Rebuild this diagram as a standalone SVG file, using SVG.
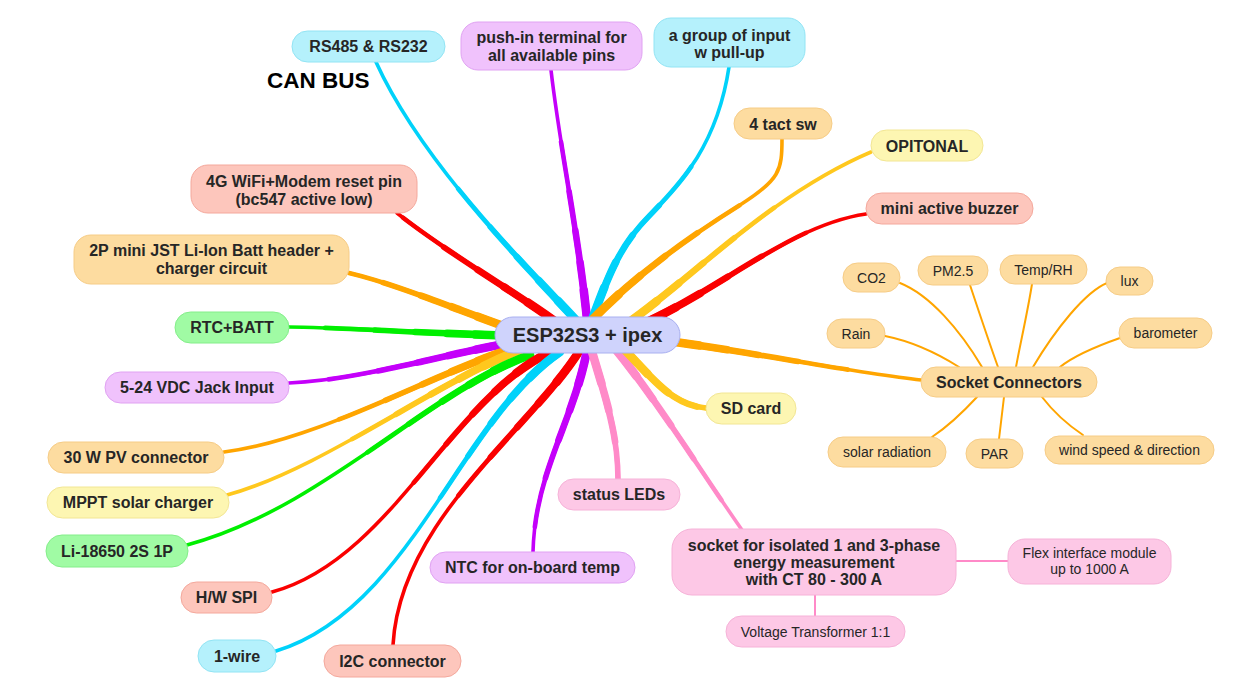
<svg xmlns="http://www.w3.org/2000/svg" xmlns:xlink="http://www.w3.org/1999/xlink" width="1241" height="696" viewBox="0 0 1241 696">
<style>
.e use{fill:none;stroke-linecap:round}
.t1{stroke-width:3.6}
.t2{stroke-width:4.6;stroke-dasharray:190 3000}
.t3{stroke-width:5.6;stroke-dasharray:140 3000}
.t4{stroke-width:6.6;stroke-dasharray:100 3000}
.t5{stroke-width:7.6;stroke-dasharray:68 3000}
.t6{stroke-width:8.6;stroke-dasharray:40 3000}
.thin{fill:none;stroke-width:2;stroke-linecap:round}
.n rect{stroke-width:1}
.n text{font-family:"Liberation Sans",Arial,sans-serif;font-weight:bold;font-size:16px;fill:#262626;text-anchor:middle}
.n text.r{font-weight:normal;font-size:14px}
.cy rect{fill:#b5f1fc;stroke:#92e4f4}
.pu rect{fill:#f0c2fc;stroke:#e0a2f2}
.or rect{fill:#fddca0;stroke:#f6cc86}
.ye rect{fill:#fdf6b2;stroke:#f2e694}
.sa rect{fill:#fdc6bc;stroke:#f4a89c}
.gr rect{fill:#a0fba4;stroke:#84ee8a}
.pk rect{fill:#fdc8e6;stroke:#f6b2d8}
.la rect{fill:#cfd3fc;stroke:#a9b0f0}
</style>
<defs>
<path id="p-rs485" d="M585,330 C545,285 425,170 376,62"/>
<path id="p-push" d="M588,330 C580,240 560,150 551,70"/>
<path id="p-group" d="M590,325 C605,285 615,255 640,226 S715,160 729,67"/>
<path id="p-tact" d="M590,322 C640,270 700,230 740,205 S782,170 782,139"/>
<path id="p-opit" d="M625,325 C690,280 770,195 871,152"/>
<path id="p-buzz" d="M640,325 C720,290 790,225 866,214"/>
<path id="p-4g" d="M560,325 C520,295 450,255 397,213"/>
<path id="p-2p" d="M515,330 C470,315 400,285 349,273"/>
<path id="p-rtc" d="M515,336 C420,333 330,327 289,327"/>
<path id="p-vdc" d="M515,342 C440,355 360,380 289,383"/>
<path id="p-pv" d="M515,348 C440,370 320,440 224,452"/>
<path id="p-mppt" d="M520,350 C440,380 320,470 227,495"/>
<path id="p-li" d="M530,355 C430,390 320,510 187,545"/>
<path id="p-spi" d="M550,352 C450,400 390,560 272,592"/>
<path id="p-wire" d="M560,352 C460,420 410,610 276,651"/>
<path id="p-i2c" d="M580,350 C530,430 400,520 393,645"/>
<path id="p-ntc" d="M588,345 C575,420 535,470 533,552"/>
<path id="p-led" d="M590,345 C603,390 618,430 618,480"/>
<path id="p-sock" d="M612,345 C650,390 700,470 742,530"/>
<path id="p-sd" d="M620,345 C650,375 670,405 706,408"/>
<path id="p-sc" d="M660,340 C740,350 850,372 921,380"/>
</defs>
<rect width="1241" height="696" fill="#ffffff"/>
<g id="connectors">
<g id="e-rs485" class="e" stroke="#00d2fa"><use xlink:href="#p-rs485" class="t1"/><use xlink:href="#p-rs485" class="t2"/><use xlink:href="#p-rs485" class="t3"/><use xlink:href="#p-rs485" class="t4"/><use xlink:href="#p-rs485" class="t5"/><use xlink:href="#p-rs485" class="t6"/></g>
<g id="e-push" class="e" stroke="#c400fa"><use xlink:href="#p-push" class="t1"/><use xlink:href="#p-push" class="t2"/><use xlink:href="#p-push" class="t3"/><use xlink:href="#p-push" class="t4"/><use xlink:href="#p-push" class="t5"/><use xlink:href="#p-push" class="t6"/></g>
<g id="e-group" class="e" stroke="#00d2fa"><use xlink:href="#p-group" class="t1"/><use xlink:href="#p-group" class="t2"/><use xlink:href="#p-group" class="t3"/><use xlink:href="#p-group" class="t4"/><use xlink:href="#p-group" class="t5"/><use xlink:href="#p-group" class="t6"/></g>
<g id="e-tact" class="e" stroke="#ffa500"><use xlink:href="#p-tact" class="t1"/><use xlink:href="#p-tact" class="t2"/><use xlink:href="#p-tact" class="t3"/><use xlink:href="#p-tact" class="t4"/><use xlink:href="#p-tact" class="t5"/><use xlink:href="#p-tact" class="t6"/></g>
<g id="e-opit" class="e" stroke="#ffc81e"><use xlink:href="#p-opit" class="t1"/><use xlink:href="#p-opit" class="t2"/><use xlink:href="#p-opit" class="t3"/><use xlink:href="#p-opit" class="t4"/><use xlink:href="#p-opit" class="t5"/><use xlink:href="#p-opit" class="t6"/></g>
<g id="e-buzz" class="e" stroke="#fa0000"><use xlink:href="#p-buzz" class="t1"/><use xlink:href="#p-buzz" class="t2"/><use xlink:href="#p-buzz" class="t3"/><use xlink:href="#p-buzz" class="t4"/><use xlink:href="#p-buzz" class="t5"/><use xlink:href="#p-buzz" class="t6"/></g>
<g id="e-4g" class="e" stroke="#fa0000"><use xlink:href="#p-4g" class="t1"/><use xlink:href="#p-4g" class="t2"/><use xlink:href="#p-4g" class="t3"/><use xlink:href="#p-4g" class="t4"/><use xlink:href="#p-4g" class="t5"/><use xlink:href="#p-4g" class="t6"/></g>
<g id="e-2p" class="e" stroke="#ffa500"><use xlink:href="#p-2p" class="t1"/><use xlink:href="#p-2p" class="t2"/><use xlink:href="#p-2p" class="t3"/><use xlink:href="#p-2p" class="t4"/><use xlink:href="#p-2p" class="t5"/><use xlink:href="#p-2p" class="t6"/></g>
<g id="e-rtc" class="e" stroke="#00ef00"><use xlink:href="#p-rtc" class="t1"/><use xlink:href="#p-rtc" class="t2"/><use xlink:href="#p-rtc" class="t3"/><use xlink:href="#p-rtc" class="t4"/><use xlink:href="#p-rtc" class="t5"/><use xlink:href="#p-rtc" class="t6"/></g>
<g id="e-vdc" class="e" stroke="#c400fa"><use xlink:href="#p-vdc" class="t1"/><use xlink:href="#p-vdc" class="t2"/><use xlink:href="#p-vdc" class="t3"/><use xlink:href="#p-vdc" class="t4"/><use xlink:href="#p-vdc" class="t5"/><use xlink:href="#p-vdc" class="t6"/></g>
<g id="e-pv" class="e" stroke="#ffa500"><use xlink:href="#p-pv" class="t1"/><use xlink:href="#p-pv" class="t2"/><use xlink:href="#p-pv" class="t3"/><use xlink:href="#p-pv" class="t4"/><use xlink:href="#p-pv" class="t5"/><use xlink:href="#p-pv" class="t6"/></g>
<g id="e-mppt" class="e" stroke="#ffc81e"><use xlink:href="#p-mppt" class="t1"/><use xlink:href="#p-mppt" class="t2"/><use xlink:href="#p-mppt" class="t3"/><use xlink:href="#p-mppt" class="t4"/><use xlink:href="#p-mppt" class="t5"/><use xlink:href="#p-mppt" class="t6"/></g>
<g id="e-li" class="e" stroke="#00ef00"><use xlink:href="#p-li" class="t1"/><use xlink:href="#p-li" class="t2"/><use xlink:href="#p-li" class="t3"/><use xlink:href="#p-li" class="t4"/><use xlink:href="#p-li" class="t5"/><use xlink:href="#p-li" class="t6"/></g>
<g id="e-spi" class="e" stroke="#fa0000"><use xlink:href="#p-spi" class="t1"/><use xlink:href="#p-spi" class="t2"/><use xlink:href="#p-spi" class="t3"/><use xlink:href="#p-spi" class="t4"/><use xlink:href="#p-spi" class="t5"/><use xlink:href="#p-spi" class="t6"/></g>
<g id="e-wire" class="e" stroke="#00d2fa"><use xlink:href="#p-wire" class="t1"/><use xlink:href="#p-wire" class="t2"/><use xlink:href="#p-wire" class="t3"/><use xlink:href="#p-wire" class="t4"/><use xlink:href="#p-wire" class="t5"/><use xlink:href="#p-wire" class="t6"/></g>
<g id="e-i2c" class="e" stroke="#fa0000"><use xlink:href="#p-i2c" class="t1"/><use xlink:href="#p-i2c" class="t2"/><use xlink:href="#p-i2c" class="t3"/><use xlink:href="#p-i2c" class="t4"/><use xlink:href="#p-i2c" class="t5"/><use xlink:href="#p-i2c" class="t6"/></g>
<g id="e-ntc" class="e" stroke="#c400fa"><use xlink:href="#p-ntc" class="t1"/><use xlink:href="#p-ntc" class="t2"/><use xlink:href="#p-ntc" class="t3"/><use xlink:href="#p-ntc" class="t4"/><use xlink:href="#p-ntc" class="t5"/><use xlink:href="#p-ntc" class="t6"/></g>
<g id="e-led" class="e" stroke="#ff8ac8"><use xlink:href="#p-led" class="t1"/><use xlink:href="#p-led" class="t2"/><use xlink:href="#p-led" class="t3"/><use xlink:href="#p-led" class="t4"/><use xlink:href="#p-led" class="t5"/><use xlink:href="#p-led" class="t6"/></g>
<g id="e-sock" class="e" stroke="#ff8ac8"><use xlink:href="#p-sock" class="t1"/><use xlink:href="#p-sock" class="t2"/><use xlink:href="#p-sock" class="t3"/><use xlink:href="#p-sock" class="t4"/><use xlink:href="#p-sock" class="t5"/><use xlink:href="#p-sock" class="t6"/></g>
<g id="e-sd" class="e" stroke="#ffc81e"><use xlink:href="#p-sd" class="t1"/><use xlink:href="#p-sd" class="t2"/><use xlink:href="#p-sd" class="t3"/><use xlink:href="#p-sd" class="t4"/><use xlink:href="#p-sd" class="t5"/><use xlink:href="#p-sd" class="t6"/></g>
<g id="e-sc" class="e" stroke="#ffa500"><use xlink:href="#p-sc" class="t1"/><use xlink:href="#p-sc" class="t2"/><use xlink:href="#p-sc" class="t3"/><use xlink:href="#p-sc" class="t4"/><use xlink:href="#p-sc" class="t5"/><use xlink:href="#p-sc" class="t6"/></g>
<g id="e-sensors" class="thin" stroke="#ffa500">
<path d="M900,283 C930,295 960,330 982,367"/>
<path d="M970,285 C980,315 990,345 998,367"/>
<path d="M1032,284 C1028,310 1020,345 1016,367"/>
<path d="M1107,283 C1085,292 1055,330 1033,367"/>
<path d="M1120,338 C1100,345 1075,355 1060,367"/>
<path d="M885,336 C915,342 940,355 959,367"/>
<path d="M932,437 C950,425 965,410 977,397"/>
<path d="M999,439 L1004,397"/>
<path d="M1083,435 C1065,423 1052,410 1042,397"/>
</g>
<g id="e-energy" class="thin" stroke="#ff8ac8">
<path d="M956,561 L1008,561"/>
<path d="M815,595 L815,616"/>
</g>
</g>
<text x="267" y="88" font-family="Liberation Sans, Arial, sans-serif" font-weight="bold" font-size="22.5" fill="#000000">CAN BUS</text>
<g id="n-center" class="n la"><rect x="495" y="317" width="185" height="36" rx="18"/><text x="587.5" y="342" style="font-size:20px">ESP32S3 + ipex</text></g>
<g id="n-rs485" class="n cy"><rect x="292" y="31" width="153" height="31" rx="15.5"/><text x="368.5" y="52">RS485 &amp; RS232</text></g>
<g id="n-push" class="n pu"><rect x="461" y="22" width="181" height="48" rx="17"/><text x="551.5" y="43">push-in terminal for</text><text x="551.5" y="61">all available pins</text></g>
<g id="n-group" class="n cy"><rect x="654" y="18" width="151" height="49" rx="17"/><text x="729.5" y="40.5">a group of input</text><text x="729.5" y="58">w pull-up</text></g>
<g id="n-tact" class="n or"><rect x="734" y="108" width="98" height="31" rx="15.5"/><text x="783" y="129.5">4 tact sw</text></g>
<g id="n-opit" class="n ye"><rect x="871" y="130" width="112" height="31" rx="15.5"/><text x="927" y="151.5">OPITONAL</text></g>
<g id="n-buzz" class="n sa"><rect x="866" y="193" width="167" height="31" rx="15.5"/><text x="949.5" y="214">mini active buzzer</text></g>
<g id="n-4g" class="n sa"><rect x="191" y="165" width="226" height="48" rx="17"/><text x="304" y="186.5">4G WiFi+Modem reset pin</text><text x="304" y="204.5">(bc547 active low)</text></g>
<g id="n-2p" class="n or"><rect x="74" y="235" width="275" height="49" rx="17"/><text x="211.5" y="256">2P mini JST Li-Ion Batt header +</text><text x="211.5" y="274">charger circuit</text></g>
<g id="n-rtc" class="n gr"><rect x="175" y="312" width="114" height="31" rx="15.5"/><text x="232" y="333">RTC+BATT</text></g>
<g id="n-vdc" class="n pu"><rect x="105" y="372" width="184" height="31" rx="15.5"/><text x="197" y="393">5-24 VDC Jack Input</text></g>
<g id="n-pv" class="n or"><rect x="48" y="442" width="176" height="31" rx="15.5"/><text x="136" y="463">30 W PV connector</text></g>
<g id="n-mppt" class="n ye"><rect x="47" y="487" width="182" height="31" rx="15.5"/><text x="138" y="508">MPPT solar charger</text></g>
<g id="n-li" class="n gr"><rect x="46" y="535" width="142" height="32" rx="16"/><text x="117" y="556.5">Li-18650 2S 1P</text></g>
<g id="n-spi" class="n sa"><rect x="181" y="582" width="91" height="31" rx="15.5"/><text x="226.5" y="603">H/W SPI</text></g>
<g id="n-wire" class="n cy"><rect x="198" y="640" width="78" height="32" rx="16"/><text x="237" y="661.5">1-wire</text></g>
<g id="n-i2c" class="n sa"><rect x="324" y="645" width="137" height="32" rx="16"/><text x="392.5" y="666.5">I2C connector</text></g>
<g id="n-ntc" class="n pu"><rect x="430" y="552" width="205" height="31" rx="15.5"/><text x="532.5" y="573">NTC for on-board temp</text></g>
<g id="n-led" class="n pk"><rect x="558" y="479" width="122" height="31" rx="15.5"/><text x="619" y="500">status LEDs</text></g>
<g id="n-sd" class="n ye"><rect x="706" y="393" width="90" height="31" rx="15.5"/><text x="751" y="414">SD card</text></g>
<g id="n-sock" class="n pk"><rect x="672" y="529" width="284" height="66" rx="20"/><text x="814" y="550.5">socket for isolated 1 and 3-phase</text><text x="814" y="567.5">energy measurement</text><text x="814" y="584.5">with CT 80 - 300 A</text></g>
<g id="n-flex" class="n pk"><rect x="1008" y="539" width="163" height="45" rx="17"/><text class="r" x="1089.5" y="558">Flex interface module</text><text class="r" x="1089.5" y="574">up to 1000 A</text></g>
<g id="n-vt" class="n pk"><rect x="726" y="616" width="179" height="31" rx="15.5"/><text class="r" x="815.5" y="636.5">Voltage Transformer 1:1</text></g>
<g id="n-sc" class="n or"><rect x="921" y="367" width="176" height="30" rx="15"/><text x="1009" y="387.5">Socket Connectors</text></g>
<g id="n-co2" class="n or"><rect x="843" y="263" width="57" height="29" rx="14.5"/><text class="r" x="871.5" y="282.5">CO2</text></g>
<g id="n-pm" class="n or"><rect x="918" y="256" width="70" height="29" rx="14.5"/><text class="r" x="953" y="275.5">PM2.5</text></g>
<g id="n-temp" class="n or"><rect x="1000" y="255" width="87" height="29" rx="14.5"/><text class="r" x="1043.5" y="274.5">Temp/RH</text></g>
<g id="n-lux" class="n or"><rect x="1106" y="267" width="47" height="28" rx="14"/><text class="r" x="1129.5" y="286">lux</text></g>
<g id="n-baro" class="n or"><rect x="1119" y="318" width="93" height="30" rx="15"/><text class="r" x="1165.5" y="338">barometer</text></g>
<g id="n-rain" class="n or"><rect x="827" y="319" width="58" height="29" rx="14.5"/><text class="r" x="856" y="338.5">Rain</text></g>
<g id="n-solar" class="n or"><rect x="828" y="437" width="118" height="30" rx="15"/><text class="r" x="887" y="457">solar radiation</text></g>
<g id="n-par" class="n or"><rect x="966" y="439" width="57" height="29" rx="14.5"/><text class="r" x="994.5" y="458.5">PAR</text></g>
<g id="n-wind" class="n or"><rect x="1045" y="436" width="169" height="28" rx="14"/><text class="r" x="1129.5" y="455">wind speed &amp; direction</text></g>
</svg>
